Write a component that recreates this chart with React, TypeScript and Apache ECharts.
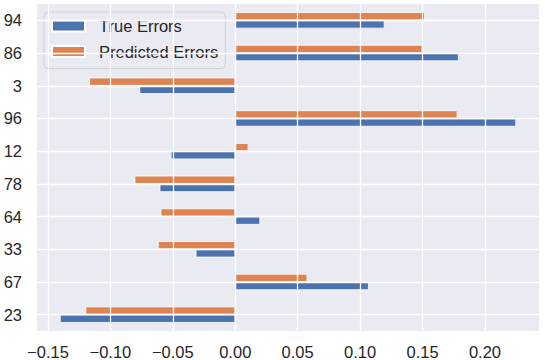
import React, { useEffect, useRef } from "react";
import * as echarts from "echarts";

const categories = ["23", "67", "33", "64", "78", "12", "96", "3", "86", "94"];
const trueErrors = [-0.1405, 0.107, -0.0317, 0.02, -0.0606, -0.0517, 0.225, -0.0768, 0.179, 0.1196];
const predictedErrors = [-0.12, 0.0578, -0.062, -0.0598, -0.0807, 0.0106, 0.178, -0.117, 0.15, 0.152];
const xTicks = [-0.15, -0.1, -0.05, 0, 0.05, 0.1, 0.15, 0.2];
const xMin = -0.1588;
const xMax = 0.2433;

const FONT = "'Liberation Sans', Arial, sans-serif";
const TEXT = "#262626";
const FS = 16.5;

export default function App() {
  const ref = useRef<HTMLDivElement>(null);
  useEffect(() => {
    if (!ref.current) return;
    const chart = echarts.init(ref.current, undefined, { renderer: "svg" });
    const fmt = (v: number) => {
      const s = Math.abs(v).toFixed(2);
      return v < -1e-9 ? "\u2212" + s : s;
    };
    chart.setOption({
      animation: false,
      textStyle: { fontFamily: FONT },
      grid: {
        left: 37,
        right: 6,
        top: 4,
        bottom: 29,
        show: true,
        backgroundColor: "#EAEAF2",
        borderWidth: 0,
      },
      legend: {
        data: ["True Errors", "Predicted Errors"],
        orient: "vertical",
        left: 44,
        top: 12,
        padding: [4, 7, 7, 7],
        itemWidth: 33,
        itemHeight: 11,
        itemGap: 5.5,
        icon: "rect",
        backgroundColor: "rgba(234,234,242,0.8)",
        borderColor: "#cfcfd4",
        borderWidth: 1,
        borderRadius: 4,
        formatter: (name: string) => "{t|" + name + "}",
        textStyle: {
          fontFamily: FONT,
          fontSize: FS,
          color: TEXT,
          lineHeight: 20,
          rich: {
            t: {
              fontFamily: FONT,
              fontSize: FS,
              color: TEXT,
              lineHeight: 20,
              height: 20,
              padding: [0, 0, 0, 9],
            },
          },
        },
      },
      xAxis: {
        type: "value",
        min: xMin,
        max: xMax,
        axisLine: { show: false },
        axisTick: { show: false },
        splitLine: { show: false },
        axisLabel: {
          customValues: xTicks,
          formatter: fmt,
          fontFamily: FONT,
          fontSize: FS,
          color: TEXT,
          margin: 12,
        },
      },
      yAxis: {
        type: "category",
        data: categories,
        axisLine: { show: false },
        axisTick: { show: false },
        splitLine: { show: false },
        axisLabel: { fontFamily: FONT, fontSize: FS, color: TEXT, margin: 15 },
      },
      series: [
        {
          name: "gridlines",
          type: "line",
          data: [],
          z: 1,
          silent: true,
          markLine: {
            silent: true,
            symbol: "none",
            label: { show: false },
            lineStyle: { color: "#ffffff", width: 1.3, type: "solid" },
            data: [
              ...xTicks.map((v) => ({ xAxis: v })),
              ...categories.map((c) => ({ yAxis: c })),
            ],
          },
        },
        {
          name: "Predicted Errors",
          type: "bar",
          data: predictedErrors,
          z: 2,
          barGap: "0%",
          barCategoryGap: "50%",
          itemStyle: { color: "#DD8452", borderColor: "#ffffff", borderWidth: 0.8 },
        },
        {
          name: "True Errors",
          type: "bar",
          data: trueErrors,
          z: 2,
          barGap: "0%",
          barCategoryGap: "50%",
          itemStyle: { color: "#4C72B0", borderColor: "#ffffff", borderWidth: 0.8 },
        },
      ],
    });
    return () => chart.dispose();
  }, []);
  return <div ref={ref} style={{ width: 545, height: 360, position: "absolute", left: 0, top: 0 }} />;
}
